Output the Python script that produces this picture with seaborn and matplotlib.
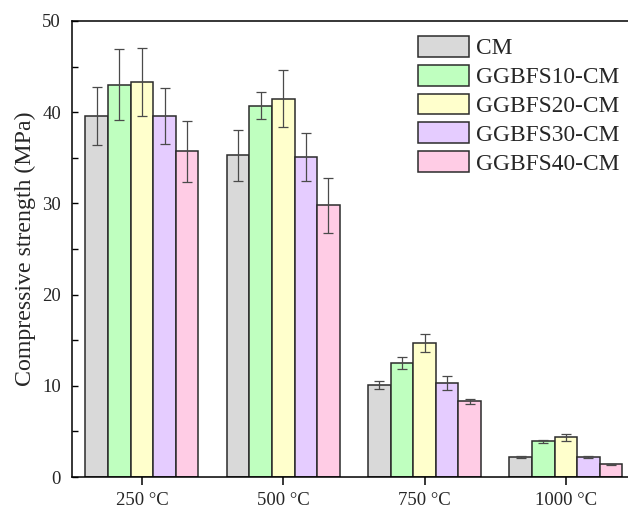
import numpy as np
import pandas as pd
import matplotlib
matplotlib.use("Agg")
import matplotlib.pyplot as plt
from matplotlib.ticker import MultipleLocator
import seaborn as sns

temperatures = ["250 °C", "500 °C", "750 °C", "1000 °C"]
groups = ["CM", "GGBFS10-CM", "GGBFS20-CM", "GGBFS30-CM", "GGBFS40-CM"]
cm = [39.6, 35.3, 10.1, 2.2]
ggbfs10 = [43.0, 40.7, 12.5, 3.9]
ggbfs20 = [43.3, 41.5, 14.7, 4.35]
ggbfs30 = [39.6, 35.1, 10.3, 2.2]
ggbfs40 = [35.7, 29.8, 8.3, 1.4]
cm_err = [3.2, 2.8, 0.45, 0.1]
ggbfs10_err = [3.9, 1.5, 0.65, 0.12]
ggbfs20_err = [3.7, 3.1, 1.0, 0.35]
ggbfs30_err = [3.1, 2.6, 0.8, 0.12]
ggbfs40_err = [3.3, 3.0, 0.3, 0.05]
colors = ["#D9D9D9", "#BFFFBF", "#FFFFCC", "#E5CCFF", "#FFCCE5"]

values = [cm, ggbfs10, ggbfs20, ggbfs30, ggbfs40]
errors = [cm_err, ggbfs10_err, ggbfs20_err, ggbfs30_err, ggbfs40_err]

rows = []
for g, vals in zip(groups, values):
    for t, v in zip(temperatures, vals):
        rows.append({"Temperature": t, "Group": g, "Strength": v})
df = pd.DataFrame(rows)

sns.set_theme(style="white")
plt.rcParams["font.family"] = ["Liberation Serif", "DejaVu Serif"]

fig = plt.figure(figsize=(6.28, 5.09), dpi=100)
ax = fig.add_axes([72 / 628, 32 / 509, (628 - 72) / 628, 456 / 509])

sns.barplot(data=df, x="Temperature", y="Strength", hue="Group",
            order=temperatures, hue_order=groups, palette=colors,
            errorbar=None, width=0.8, gap=0, saturation=1,
            edgecolor="#2b2b2b", linewidth=1.1, ax=ax)

for cont, errs in zip(ax.containers, errors):
    xs = [p.get_x() + p.get_width() / 2 for p in cont.patches]
    ys = [p.get_height() for p in cont.patches]
    ax.errorbar(xs, ys, yerr=errs, fmt="none", ecolor="#4a4a4a",
                elinewidth=0.9, capsize=3.6, capthick=0.9, zorder=5)

ax.set_ylim(0, 50)
ax.set_xlim(-0.495, 3.44)
ax.yaxis.set_major_locator(MultipleLocator(10))
ax.yaxis.set_minor_locator(MultipleLocator(5))
ax.tick_params(axis="y", which="both", direction="in", length=4, width=1.0,
               labelsize=13.5, pad=8, left=True, color="black")
ax.tick_params(axis="x", direction="out", length=5.8, width=1.1,
               labelsize=13.5, pad=5, bottom=True, color="black")
ax.set_xlabel("")
ax.set_ylabel("Compressive strength (MPa)", fontsize=17.2, labelpad=4.5)

for side in ["left", "bottom", "top"]:
    ax.spines[side].set_visible(True)
    ax.spines[side].set_color("black")
    ax.spines[side].set_linewidth(1.1)
ax.spines["right"].set_visible(False)

leg = ax.legend(loc="upper left", bbox_to_anchor=((418 - 72) / 556, (477 - 36) / 456),
                bbox_transform=ax.transAxes, frameon=False, fontsize=16.8,
                handlelength=2.2, handleheight=1.0, labelspacing=0.23,
                handletextpad=0.3, borderaxespad=0, borderpad=0)

fig.savefig("out.png", dpi=100, facecolor="white")
